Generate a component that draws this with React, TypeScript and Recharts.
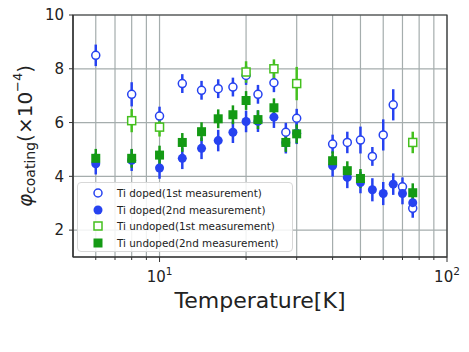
import React from 'react';
import { ScatterChart, Scatter, XAxis, YAxis, CartesianGrid, ErrorBar, Legend, Label, ReferenceArea } from 'recharts';

// Temperatures [K]
const dopedFirstT = [6, 8, 10, 12, 14, 16, 18, 20, 22, 25, 27.5, 30, 40, 45, 50, 55, 60, 65, 70, 76];
const dopedFirstV = [8.5, 7.05, 6.24, 7.45, 7.2, 7.26, 7.32, 7.75, 7.05, 7.48, 5.64, 6.16, 5.2, 5.26, 5.35, 4.74, 5.54, 6.66, 3.61, 2.81];
const dopedFirstE = [0.4, 0.45, 0.35, 0.35, 0.35, 0.35, 0.35, 0.35, 0.35, 0.35, 0.35, 0.35, 0.35, 0.4, 0.5, 0.35, 0.58, 0.58, 0.35, 0.35];

const dopedSecondT = [6, 8, 10, 12, 14, 16, 18, 20, 22, 25, 27.5, 30, 40, 45, 50, 55, 60, 65, 70, 76];
const dopedSecondV = [4.47, 4.6, 4.31, 4.67, 5.04, 5.33, 5.64, 6.04, 6.05, 6.2, 5.25, 5.6, 4.39, 3.96, 3.77, 3.5, 3.36, 3.71, 3.36, 3.02];
const dopedSecondE = [0.4, 0.4, 0.4, 0.4, 0.4, 0.4, 0.4, 0.4, 0.4, 0.4, 0.4, 0.4, 0.4, 0.4, 0.4, 0.43, 0.43, 0.4, 0.4, 0.4];

const undopedFirstT = [8, 10, 20, 25, 30, 76];
const undopedFirstV = [6.07, 5.83, 7.88, 8.0, 7.45, 5.26];
const undopedFirstE = [0.43, 0.35, 0.4, 0.35, 0.62, 0.4];

const undopedSecondT = [6, 8, 10, 12, 14, 16, 18, 20, 22, 25, 27.5, 30, 40, 45, 50, 76];
const undopedSecondV = [4.67, 4.67, 4.79, 5.26, 5.66, 6.14, 6.29, 6.82, 6.11, 6.55, 5.26, 5.58, 4.58, 4.21, 3.92, 3.39];
const undopedSecondE = [0.35, 0.35, 0.35, 0.35, 0.35, 0.35, 0.35, 0.35, 0.35, 0.35, 0.35, 0.35, 0.35, 0.35, 0.35, 0.35];

const xTicks = [6, 7, 8, 9, 10, 20, 30, 40, 50, 60, 70, 80, 90, 100];
const yTicks = [2, 4, 6, 8, 10];

const seriesNames = [
  'Ti doped(1st measurement)',
  'Ti doped(2nd measurement)',
  'Ti undoped(1st measurement)',
  'Ti undoped(2nd measurement)',
];

const BLUE = '#2642f0';
const GREEN = '#149a14';
const GREEN_LIGHT = '#44c01e';
const FONT = 'DejaVu Sans, sans-serif';

const build = (t: number[], v: number[], e: number[]) => t.map((x, i) => ({ t: x, v: v[i], err: e[i] }));

const OpenCircle = (p: any) => <circle cx={p.cx} cy={p.cy} r={4} fill="#fff" stroke={BLUE} strokeWidth={1.5} />;
const FilledCircle = (p: any) => <circle cx={p.cx} cy={p.cy} r={4.5} fill={BLUE} />;
const OpenSquare = (p: any) => <rect x={p.cx - 4} y={p.cy - 4} width={8} height={8} fill="#fff" stroke={GREEN_LIGHT} strokeWidth={1.5} />;
const FilledSquare = (p: any) => <rect x={p.cx - 4.5} y={p.cy - 4.5} width={9} height={9} fill={GREEN} />;

const shapes = [OpenCircle, FilledCircle, OpenSquare, FilledSquare];

const XTick = (props: any) => {
  const { x, y, payload } = props;
  const v = payload.value;
  const exp = Math.round(Math.log10(v));
  const major = Math.abs(Math.pow(10, exp) - v) < 1e-6;
  return (
    <g>
      <line x1={x} x2={x} y1={y} y2={y + (major ? 5 : 3)} stroke="#333" strokeWidth={1} />
      {major && (
        <text x={x} y={y + 25} textAnchor="middle" fontSize={15} fill="#222" fontFamily={FONT}>
          <tspan>10</tspan>
          <tspan dy={-7} fontSize={10.5}>{exp}</tspan>
        </text>
      )}
    </g>
  );
};

const YLabel = (props: any) => {
  const vb = props.viewBox || { x: 0, y: 15, width: 73, height: 242 };
  const cx = vb.x + 25;
  const cy = vb.y + vb.height / 2;
  return (
    <text
      x={cx}
      y={cy}
      transform={`rotate(-90, ${cx}, ${cy})`}
      textAnchor="middle"
      dominantBaseline="central"
      fill="#222"
      fontFamily={FONT}
    >
      <tspan fontSize={20} fontStyle="italic">φ</tspan>
      <tspan fontSize={14} dy={5}>coating</tspan>
      <tspan fontSize={20} dy={-5}>(×10</tspan>
      <tspan fontSize={13} dy={-8}>−4</tspan>
      <tspan fontSize={20} dy={8}>)</tspan>
    </text>
  );
};

const XLabel = (props: any) => {
  const vb = props.viewBox || { x: 73, y: 257, width: 374, height: 60 };
  return (
    <text x={vb.x + vb.width / 2} y={vb.y + 51} textAnchor="middle" fontSize={22} fill="#222" fontFamily={FONT}>
      Temperature[K]
    </text>
  );
};

const LegendMarker = ({ i }: { i: number }) => {
  const S = shapes[i];
  return (
    <svg width={14} height={14} style={{ display: 'block' }}>
      <S cx={7} cy={7} />
    </svg>
  );
};

const LegendContent = () => (
  <div
    style={{
      border: '1px solid #d8d8d8',
      borderRadius: 4,
      background: 'rgba(255,255,255,0.85)',
      padding: '2px 0 2px 0',
      boxSizing: 'border-box',
      width: 216,
      height: 70,
      fontFamily: FONT,
      fontSize: 10.4,
      color: '#222',
    }}
  >
    {seriesNames.map((n, i) => (
      <div key={n} style={{ display: 'flex', alignItems: 'center', height: 16.5, whiteSpace: 'nowrap' }}>
        <div style={{ width: 13 }} />
        <LegendMarker i={i} />
        <div style={{ width: 12 }} />
        <span>{n}</span>
      </div>
    ))}
  </div>
);

export default function App() {
  const datasets = [
    build(dopedFirstT, dopedFirstV, dopedFirstE),
    build(dopedSecondT, dopedSecondV, dopedSecondE),
    build(undopedFirstT, undopedFirstV, undopedFirstE),
    build(undopedSecondT, undopedSecondV, undopedSecondE),
  ];
  const errColors = [BLUE, BLUE, GREEN_LIGHT, GREEN];
  return (
    <div style={{ position: 'absolute', left: 0, top: 0, width: 469, height: 352, background: '#fff' }}>
      <ScatterChart width={469} height={352} margin={{ top: 15, right: 22, bottom: 35, left: 0 }}>
        <CartesianGrid stroke="#a5adad" strokeWidth={1.2} />
        <XAxis
          type="number"
          dataKey="t"
          scale="log"
          domain={[5, 100]}
          ticks={xTicks}
          allowDataOverflow
          height={60}
          tick={<XTick />}
          tickLine={false}
          tickSize={0}
          tickMargin={0}
          axisLine={{ stroke: '#333', strokeWidth: 1.2 }}
          interval={0}
        >
          <Label content={<XLabel />} />
        </XAxis>
        <YAxis
          type="number"
          dataKey="v"
          domain={[1, 10]}
          ticks={yTicks}
          allowDataOverflow
          width={73}
          tickSize={4}
          tickMargin={5}
          tick={{ fontSize: 15, fill: '#222', fontFamily: FONT }}
          tickLine={{ stroke: '#333' }}
          axisLine={{ stroke: '#333', strokeWidth: 1.2 }}
          interval={0}
        >
          <Label content={<YLabel />} />
        </YAxis>
        <ReferenceArea x1={5} x2={100} y1={1} y2={10} fill="none" stroke="#333" strokeWidth={1.2} ifOverflow="visible" />
        {datasets.map((d, i) => (
          <Scatter key={i} name={seriesNames[i]} data={d} shape={shapes[i]} isAnimationActive={false}>
            <ErrorBar dataKey="err" direction="y" width={0} stroke={errColors[i]} strokeWidth={2.5} />
          </Scatter>
        ))}
        <Legend
          layout="vertical"
          align="center"
          verticalAlign="middle"
          content={<LegendContent />}
          wrapperStyle={{ left: 77, top: 182, width: 216, height: 70 }}
        />
      </ScatterChart>
    </div>
  );
}
